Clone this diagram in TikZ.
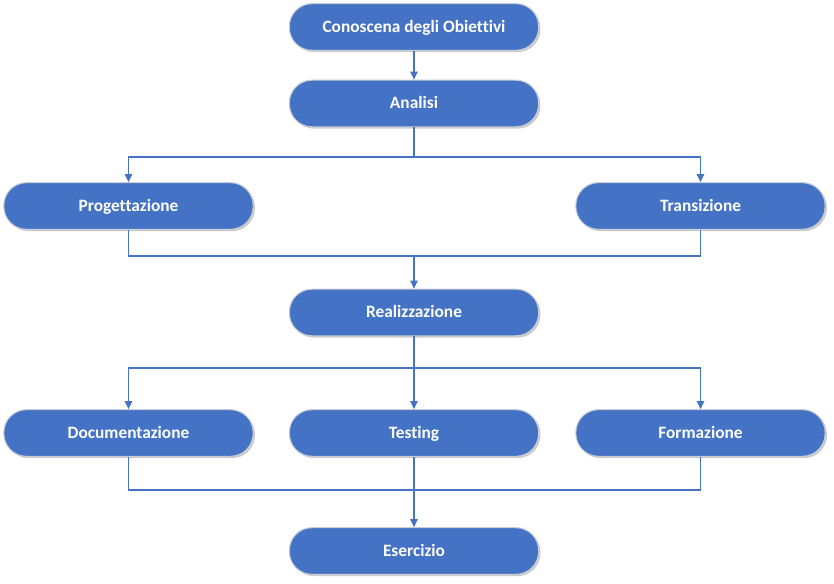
\documentclass[tikz,border=0pt]{standalone}
\usepackage{fontspec}
\setmainfont{Carlito}[Ligatures={NoCommon}]
\usetikzlibrary{arrows.meta,shadows}
\definecolor{boxblue}{RGB}{68,114,196}
\definecolor{edgegray}{RGB}{200,205,215}
\tikzset{
  pill/.style={draw=edgegray, line width=0.8pt, fill=boxblue, rounded corners=17pt,
    minimum width=187pt, minimum height=35pt, inner sep=0pt,
    text height=1.8ex, text depth=0.2ex,
    text=white, font=\fontsize{13pt}{15pt}\selectfont\bfseries,
    drop shadow={shadow xshift=1.3pt, shadow yshift=-1.3pt, opacity=0.35, fill=black!60}},
  conn/.style={draw=boxblue, line width=0.8pt},
  arr/.style={conn, -{Triangle[length=6pt,width=5.5pt]}}
}
\begin{document}
\begin{tikzpicture}[x=0.75pt,y=-0.75pt]
\useasboundingbox (0,0) rectangle (834,584);
\node[pill] (cono) at (414,27) {Conoscena degli Obiettivi};
\node[pill] (ana) at (414,103.5) {Analisi};
\node[pill] (prog) at (128.5,206) {Progettazione};
\node[pill] (trans) at (700.5,206) {Transizione};
\node[pill] (real) at (414,312.5) {Realizzazione};
\node[pill] (doc) at (128.5,433) {Documentazione};
\node[pill] (test) at (414,433) {Testing};
\node[pill] (form) at (700.5,433) {Formazione};
\node[pill] (eser) at (414,551) {Esercizio};
\coordinate (j1) at (414,157);
\coordinate (j2) at (414,256);
\coordinate (j3) at (414,368);
\coordinate (j4) at (414,490);
\draw[arr] (cono) -- (ana);
\draw[conn] (ana.south) -- (j1);
\draw[arr] (j1) -| (prog.north);
\draw[arr] (j1) -| (trans.north);
\draw[conn] (prog.south) |- (j2);
\draw[conn] (trans.south) |- (j2);
\draw[arr] (j2) -- (real.north);
\draw[arr] (real.south) -- (test.north);
\draw[arr] (j3) -| (doc.north);
\draw[arr] (j3) -| (form.north);
\draw[conn] (doc.south) |- (j4);
\draw[conn] (form.south) |- (j4);
\draw[arr] (test.south) -- (eser.north);
\end{tikzpicture}
\end{document}
